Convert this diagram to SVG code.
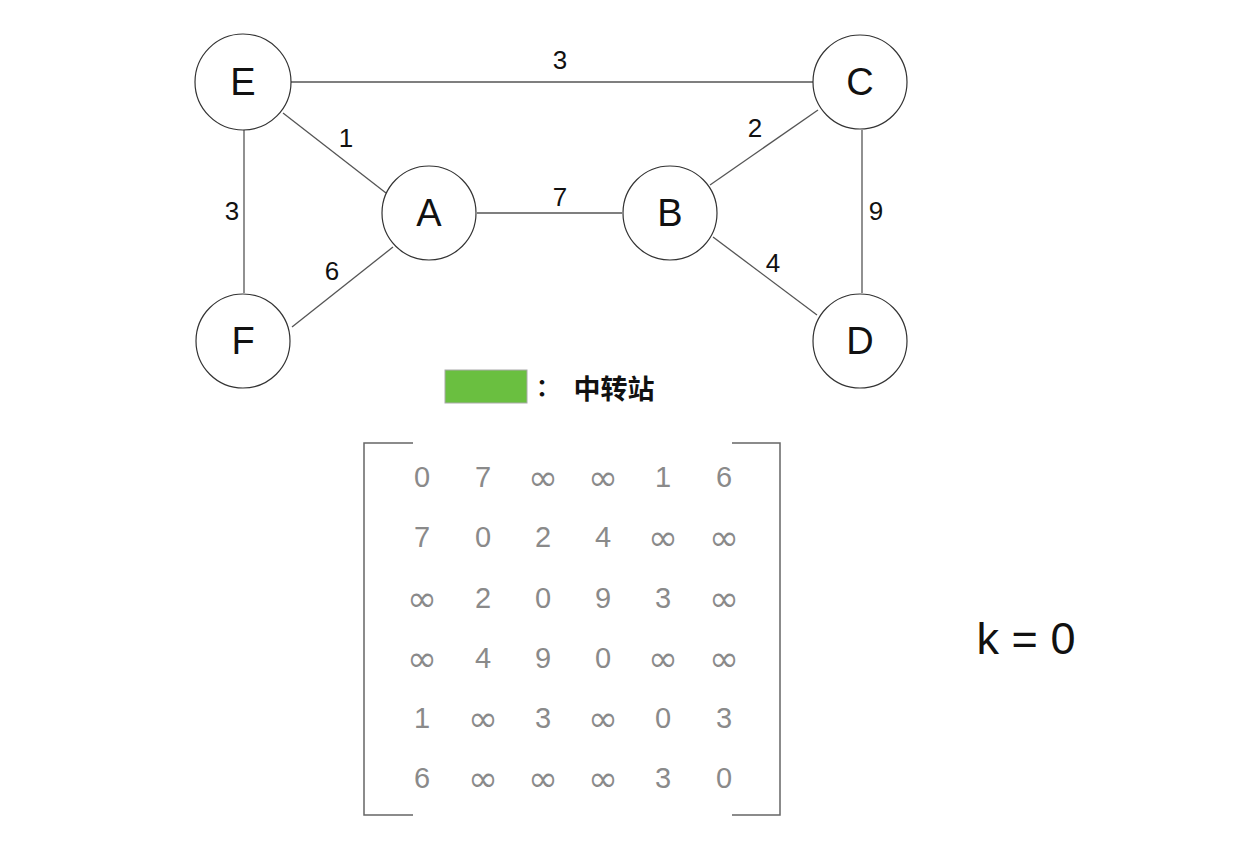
<svg xmlns="http://www.w3.org/2000/svg" width="1239" height="845" viewBox="0 0 1239 845">
<style>
.node circle{fill:#fff;stroke:#333;stroke-width:1.2}
.node text{font-family:"Liberation Sans",Arial,sans-serif;font-size:38px;fill:#111;text-anchor:middle;dominant-baseline:central}
.edges line{stroke:#555;stroke-width:1.3}
.w{font-family:"Liberation Sans",Arial,sans-serif;font-size:26px;fill:#111;text-anchor:middle;dominant-baseline:central}
.m text{font-family:"Liberation Sans",Arial,sans-serif;font-size:29px;fill:#8a8a8a;text-anchor:middle;dominant-baseline:central}
.m text.i{font-family:"DejaVu Sans",sans-serif;font-size:36px}
.br{fill:none;stroke:#666;stroke-width:1.5}
</style>
<rect width="1239" height="845" fill="#fff"/>
<g class="edges" id="connectors">
<line x1="291" y1="82" x2="813" y2="82"/>
<line x1="477" y1="213" x2="622" y2="213"/>
<line x1="283" y1="113" x2="386" y2="193"/>
<line x1="292" y1="327" x2="393" y2="247"/>
<line x1="244" y1="130" x2="244" y2="293"/>
<line x1="710" y1="185" x2="818" y2="110"/>
<line x1="713" y1="237" x2="817" y2="315"/>
<line x1="862" y1="130" x2="862" y2="293"/>
<text class="w" x="560" y="60">3</text>
<text class="w" x="346" y="138">1</text>
<text class="w" x="232" y="211">3</text>
<text class="w" x="332" y="271">6</text>
<text class="w" x="560" y="197">7</text>
<text class="w" x="755" y="128">2</text>
<text class="w" x="876" y="211">9</text>
<text class="w" x="773" y="263">4</text>
</g>
<g class="node" id="node-E"><circle cx="243" cy="82" r="48"/><text x="243" y="82">E</text></g>
<g class="node" id="node-C"><circle cx="860" cy="82" r="47"/><text x="860" y="82">C</text></g>
<g class="node" id="node-A"><circle cx="429" cy="213" r="47"/><text x="429" y="213">A</text></g>
<g class="node" id="node-B"><circle cx="670" cy="213" r="47"/><text x="670" y="213">B</text></g>
<g class="node" id="node-F"><circle cx="243" cy="341" r="47"/><text x="243" y="341">F</text></g>
<g class="node" id="node-D"><circle cx="860" cy="341" r="47"/><text x="860" y="341">D</text></g>
<g id="legend">
<rect x="445" y="370" width="82" height="33" fill="#6abf40" stroke="#aaa" stroke-width="1"/>
<text x="548" y="387" font-family="Liberation Sans,'Noto Sans CJK SC',sans-serif" font-size="24" font-weight="bold" fill="#111" dominant-baseline="central" text-anchor="middle">：</text>
<text x="614" y="387" font-family="'Noto Sans CJK SC',sans-serif" font-size="27" font-weight="bold" fill="#111" dominant-baseline="central" text-anchor="middle">中转站</text>
</g>
<g id="matrix">
<path class="br" d="M413 443 H364 V815 H413"/>
<path class="br" d="M732 443 H780 V815 H732"/>
<g class="m">
<text x="422" y="477">0</text><text x="483" y="477">7</text><text class="i" x="543" y="477">∞</text><text class="i" x="603" y="477">∞</text><text x="663" y="477">1</text><text x="724" y="477">6</text>
<text x="422" y="537">7</text><text x="483" y="537">0</text><text x="543" y="537">2</text><text x="603" y="537">4</text><text class="i" x="663" y="537">∞</text><text class="i" x="724" y="537">∞</text>
<text class="i" x="422" y="598">∞</text><text x="483" y="598">2</text><text x="543" y="598">0</text><text x="603" y="598">9</text><text x="663" y="598">3</text><text class="i" x="724" y="598">∞</text>
<text class="i" x="422" y="658">∞</text><text x="483" y="658">4</text><text x="543" y="658">9</text><text x="603" y="658">0</text><text class="i" x="663" y="658">∞</text><text class="i" x="724" y="658">∞</text>
<text x="422" y="718">1</text><text class="i" x="483" y="718">∞</text><text x="543" y="718">3</text><text class="i" x="603" y="718">∞</text><text x="663" y="718">0</text><text x="724" y="718">3</text>
<text x="422" y="778">6</text><text class="i" x="483" y="778">∞</text><text class="i" x="543" y="778">∞</text><text class="i" x="603" y="778">∞</text><text x="663" y="778">3</text><text x="724" y="778">0</text>
</g>
</g>
<text x="1026" y="638" font-family="Liberation Sans,Arial,sans-serif" font-size="45" fill="#111" text-anchor="middle" dominant-baseline="central">k = 0</text>
</svg>
